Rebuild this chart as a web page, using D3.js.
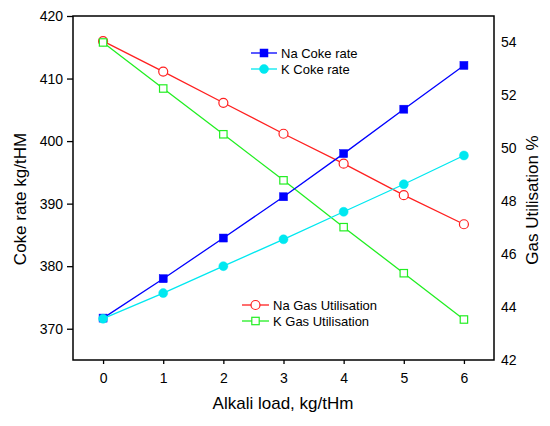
<!DOCTYPE html>
<html><head><meta charset="utf-8">
<script src="https://cdn.jsdelivr.net/npm/d3@7"></script>
<style>body{margin:0;background:#fff}svg{font-family:Arial,"Liberation Sans",sans-serif}</style>
</head><body><svg id="c" width="550" height="426"></svg>
<script>
const alkaliLoad = [0, 1, 2, 3, 4, 5, 6];
const naCokeRate = [371.7, 378.0, 384.5, 391.1, 398.0, 405.1, 412.1];
const kCokeRate = [371.6, 375.7, 380.0, 384.3, 388.7, 393.1, 397.7];
const naGasUtil = [54.05, 52.9, 51.72, 50.55, 49.42, 48.23, 47.13];
const kGasUtil = [54.0, 52.26, 50.53, 48.79, 47.02, 45.28, 43.53];
const xTicks = [0, 1, 2, 3, 4, 5, 6];
const leftTicks = [370, 380, 390, 400, 410, 420];
const rightTicks = [42, 44, 46, 48, 50, 52, 54];

const svg = d3.select("#c");
const L = 73, R = 494, T = 16, B = 360;
const x = d3.scaleLinear().domain([-0.5, 6.5]).range([L, R]);
const yL = d3.scaleLinear().domain([365, 420]).range([B, T]);
const yR = d3.scaleLinear().domain([42, 55]).range([B, T]);

// frame
svg.append("rect").attr("x", L).attr("y", T).attr("width", R - L).attr("height", B - T)
  .attr("fill", "none").attr("stroke", "#000").attr("stroke-width", 1.5);

// bottom axis
const gx = svg.append("g").attr("transform", `translate(0,${B})`);
gx.call(d3.axisBottom(x).tickValues(d3.range(-0.5, 6.51, 0.5)).tickSize(3).tickFormat(""));
gx.call(d3.axisBottom(x).tickValues(xTicks).tickSize(4).tickPadding(9).tickFormat(d3.format("d")));
gx.selectAll("path.domain").remove();
gx.selectAll("line").attr("stroke-width", 1.3);
gx.selectAll("text").attr("font-size", 14).attr("fill", "#000");

// left axis
const gy = svg.append("g").attr("transform", `translate(${L},0)`);
gy.call(d3.axisLeft(yL).tickValues(d3.range(365, 420.1, 5)).tickSize(4).tickFormat(""));
gy.call(d3.axisLeft(yL).tickValues(leftTicks).tickSize(6).tickPadding(4).tickFormat(d3.format("d")));
gy.selectAll("path.domain").remove();
gy.selectAll("line").attr("stroke-width", 1.3);
gy.selectAll("text").attr("font-size", 14).attr("fill", "#000");

// right axis (labels only)
const gr = svg.append("g").attr("transform", `translate(${R},0)`);
gr.call(d3.axisRight(yR).tickValues(rightTicks).tickSize(0).tickPadding(7).tickFormat(d3.format("d")));
gr.selectAll("path.domain").remove();
gr.selectAll("text").attr("font-size", 14).attr("fill", "#000");

// titles
svg.append("text").attr("x", 283).attr("y", 409).attr("text-anchor", "middle")
  .attr("font-size", 17).text("Alkali load, kg/tHm");
svg.append("text").attr("transform", "translate(26,199) rotate(-90)").attr("text-anchor", "middle")
  .attr("font-size", 17).text("Coke rate kg/tHM");
svg.append("text").attr("transform", "translate(538,200) rotate(-90)").attr("text-anchor", "middle")
  .attr("font-size", 17).text("Gas Utilisation %");

const series = [
  { name: "Na Gas Utilisation", vals: naGasUtil, y: yR, color: "#ff2020", shape: "circle", fill: false },
  { name: "K Gas Utilisation", vals: kGasUtil, y: yR, color: "#22ee22", shape: "square", fill: false },
  { name: "Na Coke rate", vals: naCokeRate, y: yL, color: "#0000ff", shape: "square", fill: true },
  { name: "K Coke rate", vals: kCokeRate, y: yL, color: "#00e8f0", shape: "circle", fill: true },
];

function marker(g, s, cx, cy) {
  if (s.shape === "circle") {
    g.append("circle").attr("cx", cx).attr("cy", cy).attr("r", 4.5)
      .attr("fill", s.fill ? s.color : "#fff").attr("stroke", s.color).attr("stroke-width", s.fill ? 0.5 : 1.2);
  } else {
    const h = s.fill ? 4 : 3.7;
    g.append("rect").attr("x", cx - h).attr("y", cy - h).attr("width", 2 * h).attr("height", 2 * h)
      .attr("fill", s.fill ? s.color : "#fff").attr("stroke", s.color).attr("stroke-width", s.fill ? 0.5 : 1.2);
  }
}

const line = d3.line();
series.forEach(s => {
  const pts = alkaliLoad.map((a, i) => [x(a), s.y(s.vals[i])]);
  svg.append("path").attr("d", line(pts)).attr("fill", "none").attr("stroke", s.color).attr("stroke-width", 1.3);
  const g = svg.append("g");
  pts.forEach(p => marker(g, s, p[0], p[1]));
});

// legends
const legends = [
  { s: series[2], x1: 251, x2: 277, y: 53 },
  { s: series[3], x1: 251, x2: 277, y: 69 },
  { s: series[0], x1: 242, x2: 269, y: 305 },
  { s: series[1], x1: 242, x2: 269, y: 321 },
];
legends.forEach(l => {
  const g = svg.append("g");
  g.append("line").attr("x1", l.x1).attr("x2", l.x2).attr("y1", l.y).attr("y2", l.y)
    .attr("stroke", l.s.color).attr("stroke-width", 1.3);
  marker(g, l.s, (l.x1 + l.x2) / 2, l.y);
  g.append("text").attr("x", l.x2 + 4).attr("y", l.y + 4.5).attr("font-size", 13).text(l.s.name);
});
</script></body></html>
